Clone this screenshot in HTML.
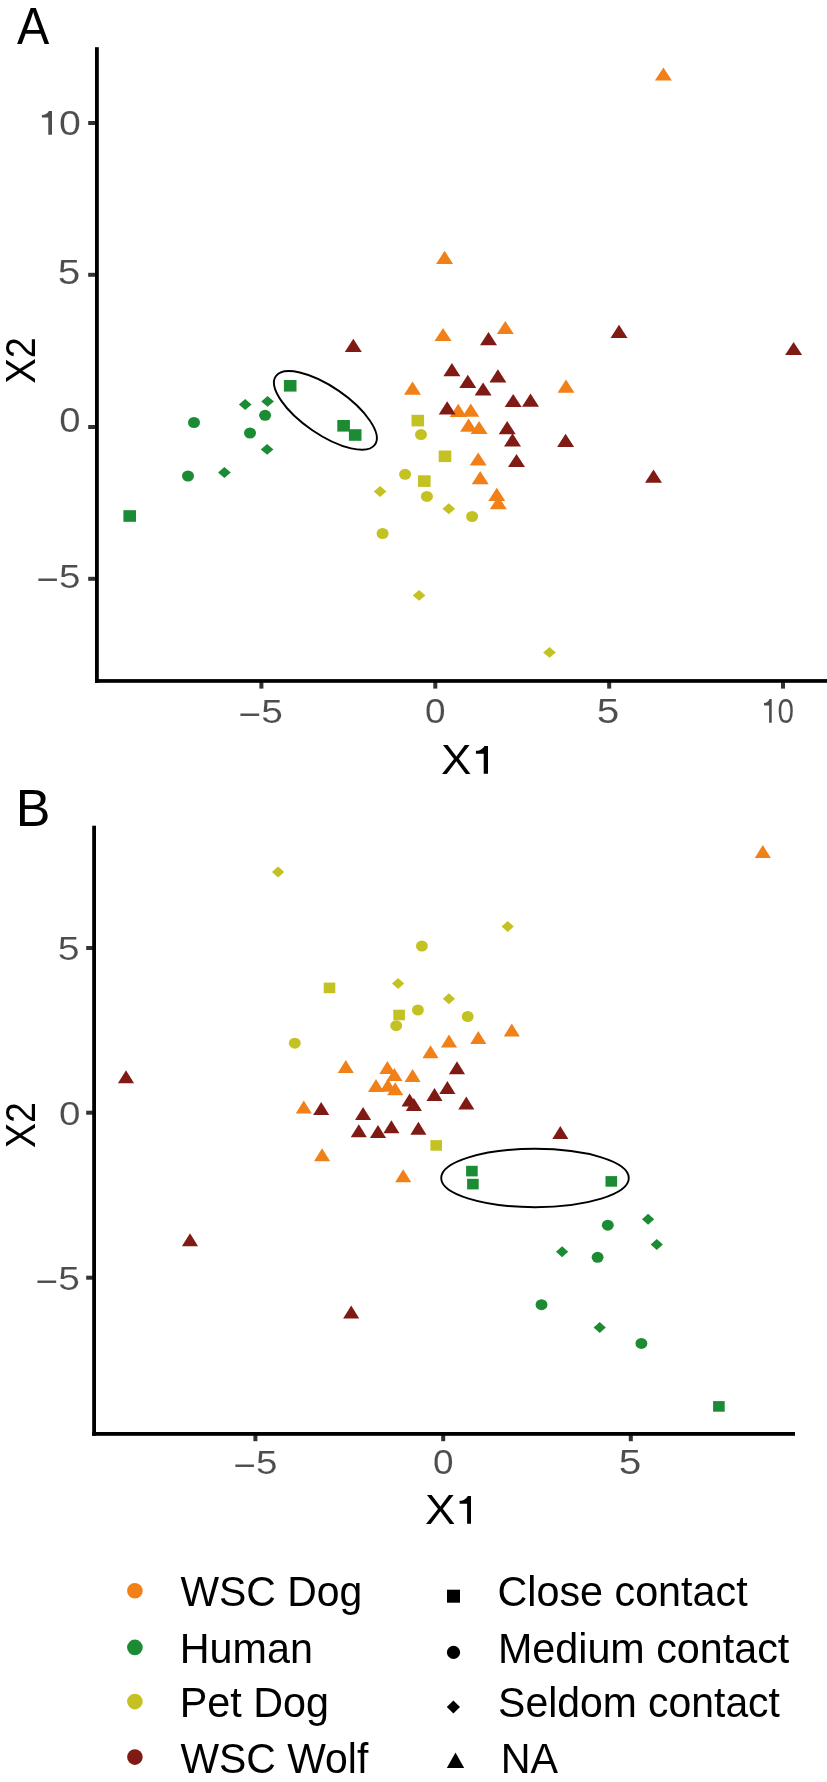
<!DOCTYPE html>
<html><head><meta charset="utf-8"><style>
html,body{margin:0;padding:0;background:#fff;overflow:hidden;}
svg{display:block;will-change:transform;}
text{font-family:"Liberation Sans",sans-serif;}
.tk{stroke:#fff;stroke-width:0.12px;}
</style></head><body>
<svg width="827" height="1782" viewBox="0 0 827 1782">
<rect width="827" height="1782" fill="#fff"/>
<g fill="#333">
<rect x="88.2" y="121" width="8" height="4"/>
<rect x="88.2" y="272.8" width="8" height="4"/>
<rect x="88.2" y="425" width="8" height="4"/>
<rect x="88.2" y="576.8" width="8" height="4"/>
<rect x="259.4" y="681" width="4" height="7.6"/>
<rect x="433.3" y="681" width="4" height="7.6"/>
<rect x="607.2" y="681" width="4" height="7.6"/>
<rect x="781" y="681" width="4" height="7.6"/>
<rect x="86.2" y="946" width="8" height="4"/>
<rect x="86.2" y="1110.7" width="8" height="4"/>
<rect x="86.2" y="1275.7" width="8" height="4"/>
<rect x="253.4" y="1434" width="4" height="7.2"/>
<rect x="441.2" y="1434" width="4" height="7.2"/>
<rect x="628.8" y="1434" width="4" height="7.2"/>
</g>
<g fill="#000">
<rect x="95" y="47.2" width="3.8" height="635.6"/>
<rect x="95" y="679.1" width="732" height="3.7"/>
<rect x="92.2" y="825.7" width="3.8" height="610"/>
<rect x="92.2" y="1432" width="702.8" height="3.8"/>
</g>
<rect x="123.4" y="510.2" width="12.6" height="11.6" fill="#1B8C34"/>
<ellipse cx="194" cy="422.5" rx="6" ry="5.5" fill="#1B8C34"/>
<ellipse cx="188" cy="476" rx="6" ry="5.5" fill="#1B8C34"/>
<path d="M224.4 467.05L230.75 472.5L224.4 477.95L218.05 472.5Z" fill="#1B8C34"/>
<path d="M245.2 399.05L251.55 404.5L245.2 409.95L238.85 404.5Z" fill="#1B8C34"/>
<path d="M267.6 395.95L273.95 401.4L267.6 406.85L261.25 401.4Z" fill="#1B8C34"/>
<ellipse cx="265.1" cy="415.3" rx="6" ry="5.5" fill="#1B8C34"/>
<ellipse cx="250" cy="433" rx="6" ry="5.5" fill="#1B8C34"/>
<path d="M267.1 443.95L273.45 449.4L267.1 454.85L260.75 449.4Z" fill="#1B8C34"/>
<rect x="283.9" y="380" width="12.6" height="11.6" fill="#1B8C34"/>
<rect x="337.3" y="420" width="12.6" height="11.6" fill="#1B8C34"/>
<rect x="348.9" y="429.2" width="12.6" height="11.6" fill="#1B8C34"/>
<rect x="411.5" y="414.8" width="12.6" height="11.6" fill="#C4C222"/>
<ellipse cx="421" cy="434.6" rx="6" ry="5.5" fill="#C4C222"/>
<rect x="438.7" y="450.5" width="12.6" height="11.6" fill="#C4C222"/>
<ellipse cx="405.1" cy="474.3" rx="6" ry="5.5" fill="#C4C222"/>
<rect x="418" y="475.3" width="12.6" height="11.6" fill="#C4C222"/>
<ellipse cx="426.9" cy="496.4" rx="6" ry="5.5" fill="#C4C222"/>
<path d="M448.8 503.25L455.15 508.7L448.8 514.15L442.45 508.7Z" fill="#C4C222"/>
<ellipse cx="472.1" cy="516.5" rx="6" ry="5.5" fill="#C4C222"/>
<path d="M380.1 486.05L386.45 491.5L380.1 496.95L373.75 491.5Z" fill="#C4C222"/>
<ellipse cx="382.6" cy="533.5" rx="6" ry="5.5" fill="#C4C222"/>
<path d="M419.1 589.95L425.45 595.4L419.1 600.85L412.75 595.4Z" fill="#C4C222"/>
<path d="M549.5 646.95L555.85 652.4L549.5 657.85L543.15 652.4Z" fill="#C4C222"/>
<path d="M663.4 67.4L671.9 80.6L654.9 80.6Z" fill="#F28018"/>
<path d="M444.6 250.8L453.1 264L436.1 264Z" fill="#F28018"/>
<path d="M443 327.9L451.5 341.1L434.5 341.1Z" fill="#F28018"/>
<path d="M505.3 320.9L513.8 334.1L496.8 334.1Z" fill="#F28018"/>
<path d="M412.5 381.5L421 394.7L404 394.7Z" fill="#F28018"/>
<path d="M566 379.6L574.5 392.8L557.5 392.8Z" fill="#F28018"/>
<path d="M458.2 403.8L466.7 417L449.7 417Z" fill="#F28018"/>
<path d="M470.8 403.6L479.3 416.8L462.3 416.8Z" fill="#F28018"/>
<path d="M468.6 418.6L477.1 431.8L460.1 431.8Z" fill="#F28018"/>
<path d="M479.1 420.9L487.6 434.1L470.6 434.1Z" fill="#F28018"/>
<path d="M478.2 452.4L486.7 465.6L469.7 465.6Z" fill="#F28018"/>
<path d="M480.2 471L488.7 484.2L471.7 484.2Z" fill="#F28018"/>
<path d="M496.8 487.8L505.3 501L488.3 501Z" fill="#F28018"/>
<path d="M498.3 496L506.8 509.2L489.8 509.2Z" fill="#F28018"/>
<path d="M353.3 338.8L361.8 352L344.8 352Z" fill="#801A15"/>
<path d="M488.5 332.1L497 345.3L480 345.3Z" fill="#801A15"/>
<path d="M619 324.7L627.5 337.9L610.5 337.9Z" fill="#801A15"/>
<path d="M793.6 341.9L802.1 355.1L785.1 355.1Z" fill="#801A15"/>
<path d="M451.9 363L460.4 376.2L443.4 376.2Z" fill="#801A15"/>
<path d="M467.8 374.8L476.3 388L459.3 388Z" fill="#801A15"/>
<path d="M497.9 369.3L506.4 382.5L489.4 382.5Z" fill="#801A15"/>
<path d="M483.1 382.4L491.6 395.6L474.6 395.6Z" fill="#801A15"/>
<path d="M513.2 393.9L521.7 407.1L504.7 407.1Z" fill="#801A15"/>
<path d="M530.5 393.6L539 406.8L522 406.8Z" fill="#801A15"/>
<path d="M447.2 401.2L455.7 414.4L438.7 414.4Z" fill="#801A15"/>
<path d="M507.2 421.1L515.7 434.3L498.7 434.3Z" fill="#801A15"/>
<path d="M512.5 433.3L521 446.5L504 446.5Z" fill="#801A15"/>
<path d="M565.6 433.7L574.1 446.9L557.1 446.9Z" fill="#801A15"/>
<path d="M516.5 453.9L525 467.1L508 467.1Z" fill="#801A15"/>
<path d="M653.5 469.6L662 482.8L645 482.8Z" fill="#801A15"/>
<ellipse cx="325.4" cy="410.4" rx="60.2" ry="23.7" transform="rotate(34.5 325.4 410.4)" fill="none" stroke="#000" stroke-width="1.9"/>
<path d="M278.1 866.4L284.2 871.9L278.1 877.4L272 871.9Z" fill="#C4C222"/>
<path d="M507.7 921.1L513.8 926.6L507.7 932.1L501.6 926.6Z" fill="#C4C222"/>
<ellipse cx="421.9" cy="946.1" rx="5.95" ry="5.5" fill="#C4C222"/>
<rect x="323.7" y="982.6" width="11.6" height="10.6" fill="#C4C222"/>
<path d="M398.1 977.9L404.2 983.4L398.1 988.9L392 983.4Z" fill="#C4C222"/>
<path d="M448.9 993.3L455 998.8L448.9 1004.3L442.8 998.8Z" fill="#C4C222"/>
<ellipse cx="417.9" cy="1010" rx="5.95" ry="5.5" fill="#C4C222"/>
<rect x="393.3" y="1009.7" width="11.6" height="10.6" fill="#C4C222"/>
<ellipse cx="396.2" cy="1025.7" rx="5.95" ry="5.5" fill="#C4C222"/>
<ellipse cx="467.7" cy="1016.5" rx="5.95" ry="5.5" fill="#C4C222"/>
<ellipse cx="294.8" cy="1043.2" rx="5.95" ry="5.5" fill="#C4C222"/>
<rect x="430.4" y="1140.1" width="11.6" height="10.6" fill="#C4C222"/>
<path d="M762.8 845L770.85 858L754.75 858Z" fill="#F28018"/>
<path d="M511.8 1023.4L519.85 1036.4L503.75 1036.4Z" fill="#F28018"/>
<path d="M478.3 1031L486.35 1044L470.25 1044Z" fill="#F28018"/>
<path d="M449 1034.5L457.05 1047.5L440.95 1047.5Z" fill="#F28018"/>
<path d="M430.5 1045.2L438.55 1058.2L422.45 1058.2Z" fill="#F28018"/>
<path d="M345.8 1059.9L353.85 1072.9L337.75 1072.9Z" fill="#F28018"/>
<path d="M387.4 1061.1L395.45 1074.1L379.35 1074.1Z" fill="#F28018"/>
<path d="M394.4 1067.9L402.45 1080.9L386.35 1080.9Z" fill="#F28018"/>
<path d="M412.6 1068.9L420.65 1081.9L404.55 1081.9Z" fill="#F28018"/>
<path d="M376 1079L384.05 1092L367.95 1092Z" fill="#F28018"/>
<path d="M387.9 1078.7L395.95 1091.7L379.85 1091.7Z" fill="#F28018"/>
<path d="M395.2 1082.2L403.25 1095.2L387.15 1095.2Z" fill="#F28018"/>
<path d="M303.8 1100.4L311.85 1113.4L295.75 1113.4Z" fill="#F28018"/>
<path d="M322.1 1148.2L330.15 1161.2L314.05 1161.2Z" fill="#F28018"/>
<path d="M403.2 1169.3L411.25 1182.3L395.15 1182.3Z" fill="#F28018"/>
<path d="M126 1070.2L134.05 1083.2L117.95 1083.2Z" fill="#801A15"/>
<path d="M190 1233.3L198.05 1246.3L181.95 1246.3Z" fill="#801A15"/>
<path d="M351.2 1305.4L359.25 1318.4L343.15 1318.4Z" fill="#801A15"/>
<path d="M321.2 1102L329.25 1115L313.15 1115Z" fill="#801A15"/>
<path d="M363.1 1106.9L371.15 1119.9L355.05 1119.9Z" fill="#801A15"/>
<path d="M358.8 1124.3L366.85 1137.3L350.75 1137.3Z" fill="#801A15"/>
<path d="M378 1125L386.05 1138L369.95 1138Z" fill="#801A15"/>
<path d="M391.4 1120.2L399.45 1133.2L383.35 1133.2Z" fill="#801A15"/>
<path d="M418.4 1121.7L426.45 1134.7L410.35 1134.7Z" fill="#801A15"/>
<path d="M409.6 1093.4L417.65 1106.4L401.55 1106.4Z" fill="#801A15"/>
<path d="M413.9 1098.1L421.95 1111.1L405.85 1111.1Z" fill="#801A15"/>
<path d="M434.5 1087.9L442.55 1100.9L426.45 1100.9Z" fill="#801A15"/>
<path d="M447.4 1080.9L455.45 1093.9L439.35 1093.9Z" fill="#801A15"/>
<path d="M457 1061.2L465.05 1074.2L448.95 1074.2Z" fill="#801A15"/>
<path d="M466.3 1096.4L474.35 1109.4L458.25 1109.4Z" fill="#801A15"/>
<path d="M560.3 1126.1L568.35 1139.1L552.25 1139.1Z" fill="#801A15"/>
<rect x="466.1" y="1165.8" width="11.6" height="10.6" fill="#1B8C34"/>
<rect x="467.1" y="1178.8" width="11.6" height="10.6" fill="#1B8C34"/>
<rect x="605.5" y="1176.1" width="11.6" height="10.6" fill="#1B8C34"/>
<ellipse cx="607.8" cy="1225.2" rx="5.95" ry="5.5" fill="#1B8C34"/>
<path d="M648.1 1213.8L654.2 1219.3L648.1 1224.8L642 1219.3Z" fill="#1B8C34"/>
<path d="M656.8 1239.1L662.9 1244.6L656.8 1250.1L650.7 1244.6Z" fill="#1B8C34"/>
<path d="M562.1 1246.3L568.2 1251.8L562.1 1257.3L556 1251.8Z" fill="#1B8C34"/>
<ellipse cx="597.6" cy="1257.3" rx="5.95" ry="5.5" fill="#1B8C34"/>
<ellipse cx="541.5" cy="1304.7" rx="5.95" ry="5.5" fill="#1B8C34"/>
<path d="M599.7 1321.9L605.8 1327.4L599.7 1332.9L593.6 1327.4Z" fill="#1B8C34"/>
<ellipse cx="641.4" cy="1343.4" rx="5.95" ry="5.5" fill="#1B8C34"/>
<rect x="713.1" y="1401.1" width="11.6" height="10.6" fill="#1B8C34"/>
<ellipse cx="535" cy="1178" rx="93.8" ry="29.2" fill="none" stroke="#000" stroke-width="1.9"/>
<circle cx="134.9" cy="1590.7" r="7.8" fill="#F28018"/>
<circle cx="134.9" cy="1647.4" r="7.8" fill="#1B8C34"/>
<circle cx="134.9" cy="1701.6" r="7.8" fill="#C4C222"/>
<circle cx="134.9" cy="1757.1" r="7.8" fill="#801A15"/>
<rect x="447" y="1589.7" width="13" height="13" fill="#000"/>
<circle cx="453.5" cy="1652.4" r="6.6" fill="#000"/>
<path d="M453.4 1700.6L460 1707.1L453.4 1713.6L446.8 1707.1Z" fill="#000"/>
<path d="M455.5 1752.5L464.2 1768L446.8 1768Z" fill="#000"/>
<path d="M488 746L488 773.8L483.7 773.8L483.7 753.78L475.9 753.78L475.9 750.78C480.19 750.78 483.31 748.5 484.34 746Z" fill="#000"/>
<path d="M471 1496L471 1523.8L467.1 1523.8L467.1 1503.78L459.6 1503.78L459.6 1500.78C463.73 1500.78 466.73 1498.5 467.69 1496Z" fill="#000"/>
<path d="M52 110.9L52 134.8L48.3 134.8L48.3 117.59L41.9 117.59L41.9 115.01C45.42 115.01 47.98 113.05 48.85 110.9Z" fill="#4D4D4D"/>
<path d="M771.7 698.9L771.7 722.8L769.1 722.8L769.1 705.59L764 705.59L764 703.01C766.81 703.01 768.85 701.05 769.49 698.9Z" fill="#4D4D4D"/>
<text transform="translate(17 43.65) scale(0.94 0.99)" font-size="51.5" fill="#000">A</text>
<text transform="translate(15.66 826.4) scale(1.01 1.01)" font-size="51.5" fill="#000">B</text>
<text transform="translate(441.1 773.8) scale(1.1 1.03)" font-size="41.5" fill="#000">X</text>
<text transform="translate(425.1 1523.8) scale(1.1 1.03)" font-size="41.5" fill="#000">X</text>
<text transform="translate(35 383.52) rotate(-90) scale(0.91 1.03)" font-size="41.5" fill="#000">X2</text>
<text transform="translate(35.1 1147.9) rotate(-90) scale(0.9 1.04)" font-size="41.5" fill="#000">X2</text>
<text class="tk" transform="translate(58.91 134.8) scale(1.19 1.04)" font-size="33" fill="#4D4D4D">0</text>
<text class="tk" transform="translate(57.83 284) scale(1.23 1.05)" font-size="33" fill="#4D4D4D">5</text>
<text class="tk" transform="translate(59.14 432) scale(1.16 1.05)" font-size="33" fill="#4D4D4D">0</text>
<text class="tk" transform="translate(36.46 587.8) scale(1.17 1.03)" font-size="33" fill="#4D4D4D"><tspan dy="2.75">&#8722;</tspan><tspan dy="-2.75">5</tspan></text>
<text class="tk" transform="translate(238.44 722.8) scale(1.18 1.03)" font-size="33" fill="#4D4D4D"><tspan dy="2.75">&#8722;</tspan><tspan dy="-2.75">5</tspan></text>
<text class="tk" transform="translate(424.88 723) scale(1.12 1.05)" font-size="33" fill="#4D4D4D">0</text>
<text class="tk" transform="translate(596.83 723) scale(1.23 1.05)" font-size="33" fill="#4D4D4D">5</text>
<text class="tk" transform="translate(777.4 722.8) scale(0.9 1.04)" font-size="33" fill="#4D4D4D">0</text>
<text class="tk" transform="translate(57.73 959.8) scale(1.19 1.03)" font-size="33" fill="#4D4D4D">5</text>
<text class="tk" transform="translate(58.93 1124.8) scale(1.17 1.03)" font-size="33" fill="#4D4D4D">0</text>
<text class="tk" transform="translate(35.54 1289.7) scale(1.18 1.03)" font-size="33" fill="#4D4D4D"><tspan dy="2.75">&#8722;</tspan><tspan dy="-2.75">5</tspan></text>
<text class="tk" transform="translate(233.46 1473.8) scale(1.17 1.03)" font-size="33" fill="#4D4D4D"><tspan dy="2.75">&#8722;</tspan><tspan dy="-2.75">5</tspan></text>
<text class="tk" transform="translate(432.88 1474) scale(1.12 1.05)" font-size="33" fill="#4D4D4D">0</text>
<text class="tk" transform="translate(618.73 1473.8) scale(1.23 1.04)" font-size="33" fill="#4D4D4D">5</text>
<text transform="translate(180.5 1606.3) scale(0.99 1.03)" font-size="41.3" fill="#000">WSC Dog</text>
<text transform="translate(179.8 1663) scale(1 1.03)" font-size="41.3" fill="#000">Human</text>
<text transform="translate(179.8 1716.9) scale(1 1.03)" font-size="41.3" fill="#000">Pet Dog</text>
<text transform="translate(180.5 1772.9) scale(0.99 1.03)" font-size="41.3" fill="#000">WSC Wolf</text>
<text transform="translate(497.51 1605.9) scale(1 1.03)" font-size="41.3" fill="#000">Close contact</text>
<text transform="translate(497.91 1662.8) scale(1 1.03)" font-size="41.3" fill="#000">Medium contact</text>
<text transform="translate(498.12 1716.9) scale(0.99 1.03)" font-size="41.3" fill="#000">Seldom contact</text>
<text transform="translate(500.71 1772.9) scale(1 1.03)" font-size="41.3" fill="#000">NA</text>
</svg>
</body></html>
